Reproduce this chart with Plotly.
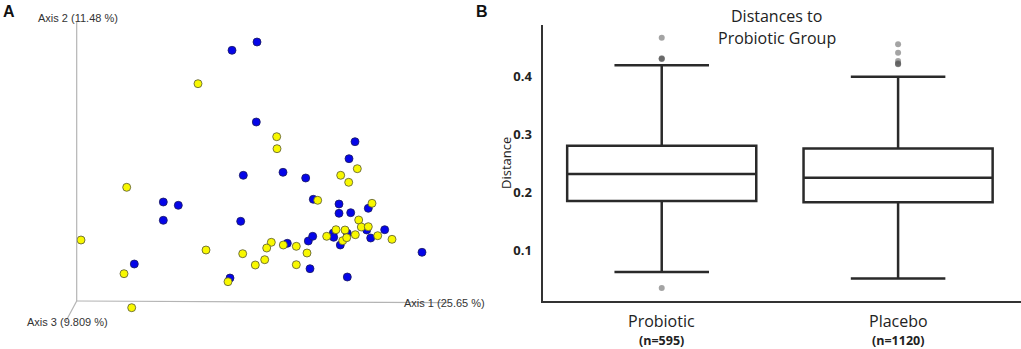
import plotly.graph_objects as go

# ---- Panel A: PCoA projection (positions in projected plot frame) ----
blue_x = [232.0, 257.0, 256.3, 355.0, 349.0, 243.3, 283.0, 305.7, 163.3, 178.3, 163.3, 240.7,
          313.3, 339.0, 339.0, 350.7, 368.3, 384.7, 366.7, 370.7, 333.3, 333.7, 347.3, 340.3,
          287.3, 308.3, 312.7, 310.0, 347.3, 422.0, 134.3, 230.0]
blue_y = [50.3, 42.0, 122.0, 141.7, 158.7, 175.3, 172.3, 178.0, 202.0, 205.3, 220.3, 221.3,
          199.3, 204.0, 213.3, 212.7, 208.3, 229.7, 230.0, 238.0, 233.0, 237.3, 233.3, 245.0,
          243.3, 241.0, 236.3, 268.7, 277.0, 252.3, 264.0, 278.0]
yellow_x = [198.0, 276.7, 277.0, 357.3, 340.7, 348.7, 317.7, 372.0, 358.7, 361.3, 368.3, 336.0,
            345.0, 355.3, 377.7, 392.0, 326.7, 342.7, 346.7, 126.7, 81.0, 206.0, 242.7, 271.3,
            266.7, 283.3, 296.3, 307.0, 264.7, 255.3, 296.3, 228.0, 124.0, 131.7]
yellow_y = [83.7, 136.7, 148.7, 168.7, 175.3, 182.3, 200.3, 203.3, 220.0, 227.0, 226.7, 229.7,
            230.0, 234.7, 235.7, 239.3, 236.3, 240.7, 237.7, 187.3, 240.0, 250.0, 253.7, 242.3,
            248.0, 245.0, 246.3, 253.0, 259.7, 265.0, 264.7, 281.7, 273.7, 307.7]
axis_labels = ["Axis 1 (25.65 %)", "Axis 2 (11.48 %)", "Axis 3 (9.809 %)"]

# ---- Panel B: distances to probiotic group ----
groups = ["Probiotic", "Placebo"]
group_n = ["(n=595)", "(n=1120)"]
q1 = [0.1846, 0.1828]
median = [0.2314, 0.2250]
q3 = [0.2804, 0.2759]
lower_fence = [0.0620, 0.0506]
upper_fence = [0.4198, 0.4000]
outliers_probiotic = [0.4676, 0.4312, 0.4305, 0.4318, 0.0343]
outliers_placebo = [0.4560, 0.4416, 0.4272, 0.4231, 0.4215, 0.4222]

W, H = 1021, 349
fig = go.Figure()

# Panel A pseudo-3D axes
fig.add_shape(type="line", xref="x", yref="y", x0=76.7, y0=301, x1=76.7, y1=21.7,
              line=dict(color="#b4b4b4", width=1.2))
fig.add_shape(type="line", xref="x", yref="y", x0=76.7, y0=301, x1=447, y1=302.7,
              line=dict(color="#b4b4b4", width=1.2))
fig.add_shape(type="line", xref="x", yref="y", x0=76.7, y0=301, x1=66, y1=321,
              line=dict(color="#b4b4b4", width=1.2))

fig.add_trace(go.Scatter(x=blue_x, y=blue_y, mode="markers", xaxis="x", yaxis="y",
                         marker=dict(size=8, color="#0505e8", line=dict(color="#1a1a60", width=0.8)),
                         showlegend=False, hoverinfo="skip"))
fig.add_trace(go.Scatter(x=yellow_x, y=yellow_y, mode="markers", xaxis="x", yaxis="y",
                         marker=dict(size=8, color="#f8f800", line=dict(color="#555533", width=0.8)),
                         showlegend=False, hoverinfo="skip"))

# Panel B boxes
fig.add_trace(go.Box(x=[0, 1], q1=q1, median=median, q3=q3,
                     lowerfence=lower_fence, upperfence=upper_fence,
                     xaxis="x2", yaxis="y2", width=0.8, whiskerwidth=0.5,
                     fillcolor="white", line=dict(color="#2a2a2a", width=2.5),
                     boxpoints=False, showlegend=False, hoverinfo="skip"))
fig.add_trace(go.Scatter(x=[0] * len(outliers_probiotic), y=outliers_probiotic, mode="markers",
                         xaxis="x2", yaxis="y2",
                         marker=dict(size=6, color="rgba(90,90,90,0.55)"),
                         showlegend=False, hoverinfo="skip"))
fig.add_trace(go.Scatter(x=[1] * len(outliers_placebo), y=outliers_placebo, mode="markers",
                         xaxis="x2", yaxis="y2",
                         marker=dict(size=6, color="rgba(90,90,90,0.55)"),
                         showlegend=False, hoverinfo="skip"))

ann = []
afont = dict(family="Liberation Sans, Arial", size=11, color="#333333")
ann.append(dict(x=402, y=303, xref="x", yref="y", text=axis_labels[0], showarrow=False,
                xanchor="left", yanchor="middle", font=afont))
ann.append(dict(x=36, y=18, xref="x", yref="y", text=axis_labels[1], showarrow=False,
                xanchor="left", yanchor="middle", font=afont))
ann.append(dict(x=25, y=322, xref="x", yref="y", text=axis_labels[2], showarrow=False,
                xanchor="left", yanchor="middle", font=afont))
# panel letters
lfont = dict(family="Liberation Sans, Arial", size=16, color="#111111", weight="bold")
ann.append(dict(x=9 / W, y=1 - 11 / H, xref="paper", yref="paper", text="A", showarrow=False,
                xanchor="center", yanchor="middle", font=lfont))
ann.append(dict(x=482 / W, y=1 - 11 / H, xref="paper", yref="paper", text="B", showarrow=False,
                xanchor="center", yanchor="middle", font=lfont))
# panel B title
tfont = dict(family="Open Sans", size=16, color="#222222")
ann.append(dict(x=776.7 / W, y=1 - 15.7 / H, xref="paper", yref="paper", text="Distances to",
                showarrow=False, xanchor="center", yanchor="middle", font=tfont))
ann.append(dict(x=776.7 / W, y=1 - 37.7 / H, xref="paper", yref="paper", text="Probiotic Group",
                showarrow=False, xanchor="center", yanchor="middle", font=tfont))
# y title
ann.append(dict(x=506 / W, y=1 - 163 / H, xref="paper", yref="paper", text="Distance",
                textangle=-90, showarrow=False, xanchor="center", yanchor="middle",
                font=dict(family="Open Sans", size=13, color="#222222")))
# category labels
for i, (g, n) in enumerate(zip(groups, group_n)):
    ann.append(dict(x=i, y=1 - 321 / H, xref="x2", yref="paper", text=g, showarrow=False,
                    xanchor="center", yanchor="middle",
                    font=dict(family="Open Sans", size=16, color="#222222")))
    ann.append(dict(x=i, y=1 - 340 / H, xref="x2", yref="paper", text=n, showarrow=False,
                    xanchor="center", yanchor="middle",
                    font=dict(family="Open Sans", size=12.5, color="#222222", weight="bold")))

fig.update_layout(
    width=W, height=H, margin=dict(l=0, r=0, t=0, b=0),
    paper_bgcolor="white", plot_bgcolor="white",
    xaxis=dict(domain=[0, 500 / W], range=[0, 500], visible=False, fixedrange=True),
    yaxis=dict(domain=[0, 1], range=[349, 0], visible=False, fixedrange=True),
    xaxis2=dict(domain=[543.3 / W, 1.0], range=[-0.501, 1.52], anchor="y2",
                showgrid=False, zeroline=False, showticklabels=False, ticks="",
                showline=True, linecolor="#333333", linewidth=1.5),
    yaxis2=dict(domain=[(H - 301) / H, (H - 25) / H], range=[0.0117, 0.4895], anchor="x2",
                showgrid=False, zeroline=False, showline=True, linecolor="#333333", linewidth=1.5,
                tickvals=[0.1, 0.2, 0.3, 0.4], ticktext=["0.1", "0.2", "0.3", "0.4"], ticks="",
                ticklabelstandoff=7,
                tickfont=dict(family="Open Sans", size=13, color="#222222", weight="bold")),
    annotations=ann,
)

fig.write_html("out.html", config={"displayModeBar": False},
               post_script="document.body.style.margin='0';document.body.style.padding='0';"
                           "document.body.style.overflow='hidden';"
                           "document.documentElement.style.overflow='hidden';")
